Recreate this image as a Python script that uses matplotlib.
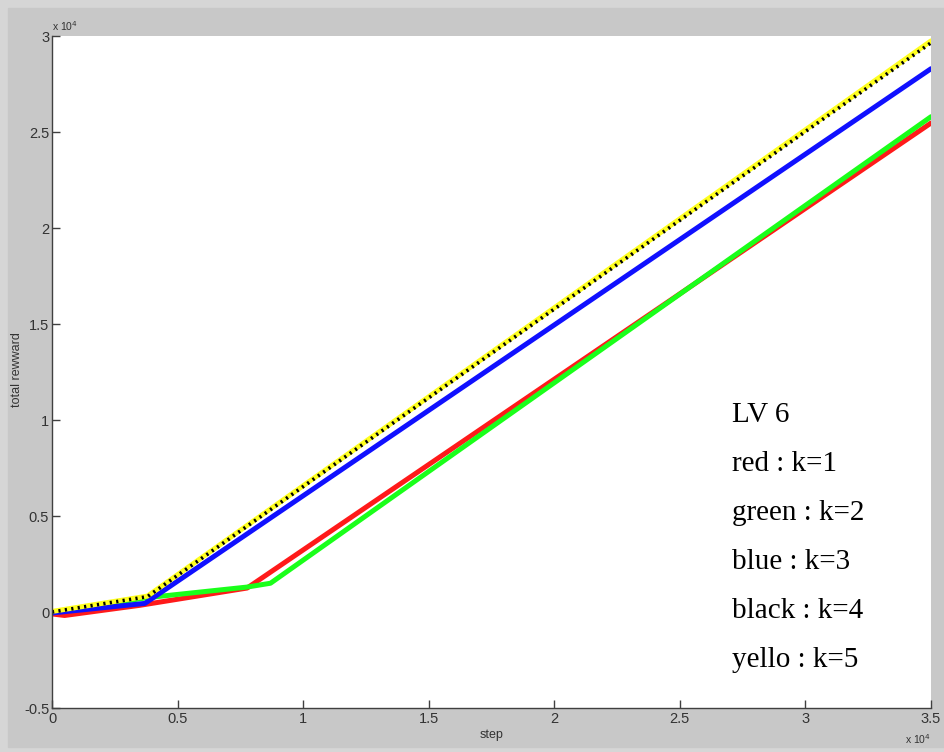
import matplotlib
matplotlib.use("Agg")
import matplotlib.pyplot as plt
from matplotlib.patches import Rectangle
from matplotlib.ticker import FuncFormatter

# piecewise key points (step, total reward)
red_x = [0, 500, 3500, 7770, 35000]
red_y = [-100, -180, 350, 1250, 25470]

green_x = [0, 3800, 7770, 8700, 35000]
green_y = [-30, 750, 1300, 1500, 25800]

blue_x = [0, 3700, 35000]
blue_y = [-50, 450, 28300]

black_x = [0, 3800, 35000]
black_y = [0, 800, 29650]

yellow_x = [0, 3800, 35000]
yellow_y = [30, 830, 29750]

notes = ["LV 6", "red : k=1", "green : k=2", "blue : k=3", "black : k=4", "yello : k=5"]

gray = "#c8c8c8"
axcol = "#404040"
txtcol = "#333333"

fig = plt.figure(figsize=(9.44, 7.52), dpi=100, facecolor="#d6d6d6")
# inner gray panel (window border is a bit lighter)
fig.add_artist(Rectangle((8 / 944, 5 / 752), 936 / 944, 739 / 752,
                         transform=fig.transFigure, color=gray, zorder=-10))
ax = fig.add_axes([0.0551, 0.0585, 0.9311, 0.8935])

lw = 3.6
ax.plot(red_x, red_y, color="#ff1a1a", lw=lw, solid_capstyle="round")
ax.plot(green_x, green_y, color="#1aff1a", lw=lw, solid_capstyle="round")
ax.plot(blue_x, blue_y, color="#1010ff", lw=lw, solid_capstyle="round")
ax.plot(yellow_x, yellow_y, color="#ffff20", lw=lw, solid_capstyle="round")
ax.plot(black_x, black_y, color="black", lw=2.6, ls=(0, (0.6, 1.2)))

ax.set_xlim(0, 35000)
ax.set_ylim(-5000, 30000)
ax.set_xticks([0, 5000, 10000, 15000, 20000, 25000, 30000, 35000])
ax.set_yticks([-5000, 0, 5000, 10000, 15000, 20000, 25000, 30000])
fmt = FuncFormatter(lambda v, p: ("%g" % (v / 1e4)))
ax.xaxis.set_major_formatter(fmt)
ax.yaxis.set_major_formatter(fmt)

for s in ["top", "right"]:
    ax.spines[s].set_visible(False)
for s in ["left", "bottom"]:
    ax.spines[s].set_color(axcol)
    ax.spines[s].set_linewidth(1.0)

ax.tick_params(direction="in", length=6, width=1, color=axcol,
               labelcolor=txtcol, labelsize=10.5)
ax.tick_params(axis="y", pad=2)
ax.tick_params(axis="x", pad=3)
for lab in ax.get_xticklabels() + ax.get_yticklabels():
    lab.set_fontfamily("Liberation Sans")

ax.set_xlabel("step", fontsize=9, color=txtcol, family="Liberation Sans", labelpad=2)
fig.text(17 / 944, 1 - 370 / 752, "total rewward", fontsize=9, color=txtcol,
         family="Liberation Sans", rotation=90, va="center", ha="center")

fig.text(52 / 944, 1 - 26 / 752, r"x 10$^4$", fontsize=7.5, color=txtcol,
         family="Liberation Sans", va="center", ha="left")
fig.text(905 / 944, 1 - 739 / 752, r"x 10$^4$", fontsize=7.5, color=txtcol,
         family="Liberation Sans", va="center", ha="left")

for i, t in enumerate(notes):
    fig.text(732 / 944, 1 - (422 + 49 * i) / 752, t, fontsize=21,
             family="Liberation Serif", color="black", va="baseline", ha="left")

fig.savefig("out.png", dpi=100, facecolor=fig.get_facecolor())
